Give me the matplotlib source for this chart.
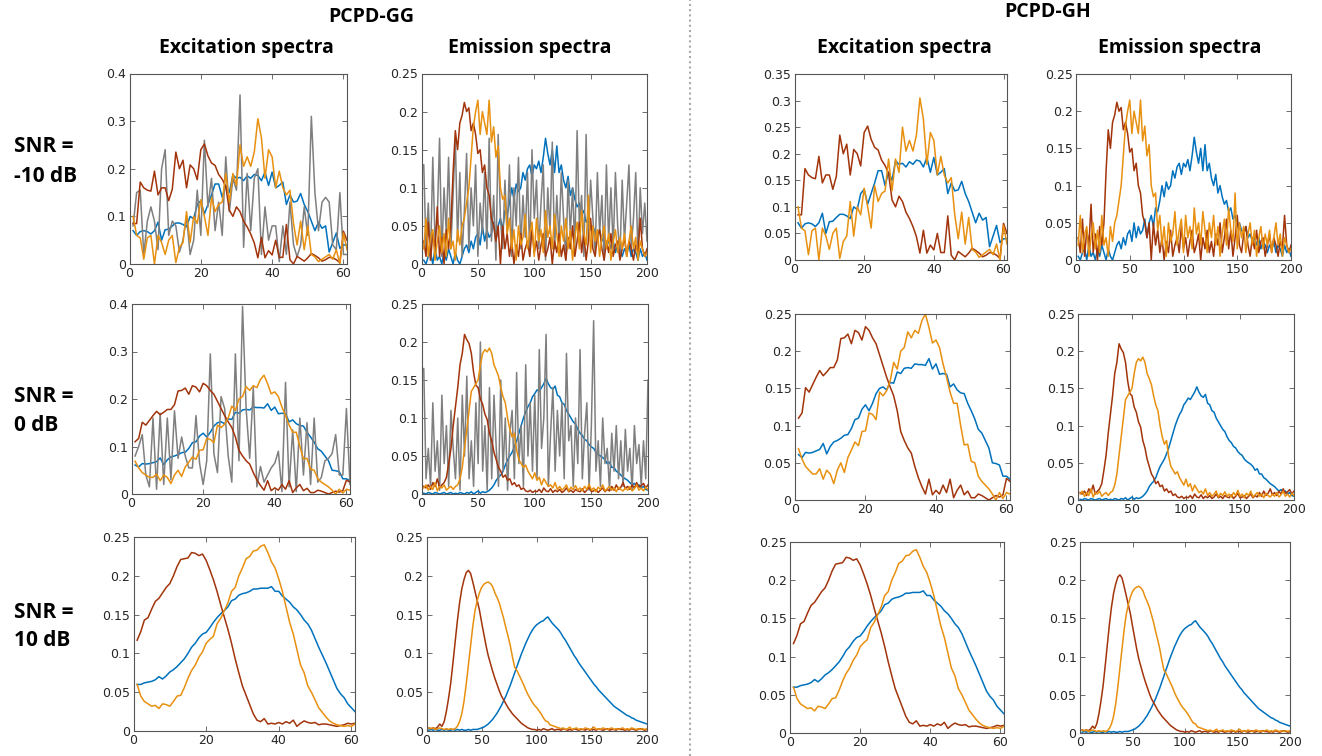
import numpy as np
import matplotlib.pyplot as plt
from matplotlib.ticker import FuncFormatter

W, H = 1322, 756

# sample positions
ex_x = np.arange(1, 62)
em_x = np.arange(2, 201, 2)

# ---- excitation spectra, SNR = -10 dB ----
ex_brown_m10 = [0.085, 0.085, 0.172, 0.16, 0.155, 0.153, 0.195, 0.145, 0.16, 0.16,
                0.133, 0.157, 0.235, 0.2, 0.218, 0.16, 0.208, 0.2, 0.177, 0.24,
                0.252, 0.227, 0.212, 0.207, 0.188, 0.178, 0.163, 0.113, 0.1, 0.12,
                0.11, 0.09, 0.078, 0.063, 0.044, 0.013, 0.056, 0.013, 0.028, 0.019,
                0.05, 0.014, 0.014, 0.083, 0.009, 0.0, 0.016, 0.011, 0.006, 0.013,
                0.022, 0.018, 0.013, 0.006, 0.009, 0.014, 0.013, 0.009, 0.003, 0.069,
                0.05]
ex_orange_m10 = [0.1, 0.06, 0.055, 0.01, 0.055, 0.06, 0.0, 0.06, 0.045, 0.02,
                 0.05, 0.06, 0.003, 0.035, 0.045, 0.11, 0.045, 0.1, 0.085, 0.135,
                 0.1, 0.06, 0.14, 0.11, 0.125, 0.13, 0.19, 0.13, 0.19, 0.165,
                 0.25, 0.205, 0.225, 0.205, 0.235, 0.305, 0.265, 0.18, 0.24, 0.225,
                 0.16, 0.195, 0.16, 0.145, 0.155, 0.085, 0.04, 0.09, 0.03, 0.08,
                 0.02, 0.015, 0.005, 0.01, 0.015, 0.02, 0.01, 0.03, 0.0, 0.065,
                 0.03]
ex_blue_m10 = [0.07, 0.06, 0.068, 0.07, 0.068, 0.063, 0.07, 0.088, 0.05, 0.072,
               0.073, 0.08, 0.086, 0.086, 0.083, 0.078, 0.1, 0.095, 0.125, 0.133,
               0.105, 0.125, 0.145, 0.168, 0.168, 0.14, 0.165, 0.15, 0.187, 0.18,
               0.182, 0.175, 0.185, 0.18, 0.188, 0.186, 0.175, 0.193, 0.165, 0.193,
               0.16, 0.165, 0.172, 0.125, 0.145, 0.13, 0.132, 0.148, 0.125, 0.11,
               0.09, 0.07, 0.088, 0.075, 0.08, 0.025, 0.045, 0.065, 0.033, 0.04,
               0.04]
ex_gray_m10 = [0.08, 0.15, 0.155, 0.02, 0.09, 0.12, 0.09, 0.03, 0.2, 0.24,
               0.06, 0.09, 0.08, 0.025, 0.05, 0.1, 0.02, 0.05, 0.155, 0.06,
               0.26, 0.12, 0.18, 0.07, 0.13, 0.06, 0.225, 0.11, 0.18, 0.155,
               0.355, 0.035, 0.19, 0.07, 0.18, 0.2, 0.02, 0.12, 0.05, 0.08,
               0.08, 0.005, 0.08, 0.02, 0.13, 0.04, 0.015, 0.04, 0.12, 0.06,
               0.31, 0.15, 0.07, 0.13, 0.14, 0.13, 0.04, 0.03, 0.15, 0.02,
               0.02]

# ---- excitation spectra, SNR = 0 dB ----
ex_brown_0 = [0.11, 0.117, 0.151, 0.145, 0.155, 0.165, 0.174, 0.167, 0.172, 0.178,
              0.178, 0.188, 0.217, 0.218, 0.223, 0.21, 0.228, 0.225, 0.215, 0.233,
              0.228, 0.218, 0.21, 0.195, 0.18, 0.165, 0.152, 0.14, 0.12, 0.092,
              0.08, 0.07, 0.063, 0.045, 0.03, 0.018, 0.008, 0.028, 0.007, 0.013,
              0.008, 0.02, 0.01, 0.028, 0.003, 0.013, 0.02, 0.007, 0.012, 0.003,
              0.003, 0.008, 0.006, 0.003, 0.0, 0.003, 0.006, 0.004, 0.007, 0.029,
              0.025]
ex_orange_0 = [0.069, 0.055, 0.045, 0.04, 0.035, 0.035, 0.042, 0.028, 0.04, 0.035,
               0.022, 0.04, 0.05, 0.037, 0.057, 0.067, 0.078, 0.073, 0.092, 0.093,
               0.117, 0.115, 0.108, 0.145, 0.14, 0.147, 0.16, 0.185, 0.176, 0.2,
               0.205, 0.226, 0.218, 0.228, 0.224, 0.241, 0.25, 0.232, 0.211, 0.215,
               0.205, 0.183, 0.165, 0.145, 0.13, 0.13, 0.1, 0.074, 0.075, 0.052,
               0.05, 0.032, 0.025, 0.02, 0.015, 0.008, 0.0, 0.01, 0.002, 0.01,
               0.008]
ex_blue_0 = [0.061, 0.057, 0.064, 0.063, 0.064, 0.066, 0.068, 0.076, 0.062, 0.072,
             0.078, 0.08, 0.083, 0.087, 0.088, 0.096, 0.108, 0.11, 0.122, 0.128,
             0.12, 0.13, 0.143, 0.15, 0.152, 0.148, 0.158, 0.157, 0.172, 0.17,
             0.177, 0.178, 0.177, 0.183, 0.182, 0.182, 0.181, 0.19, 0.176, 0.183,
             0.169, 0.17, 0.169, 0.152, 0.156, 0.148, 0.144, 0.143, 0.13, 0.12,
             0.109, 0.095, 0.09, 0.08, 0.07, 0.05, 0.049, 0.047, 0.032, 0.032,
             0.028]
ex_gray_0 = [0.08, 0.1, 0.125, 0.04, 0.015, 0.16, 0.01, 0.17, 0.02, 0.16,
             0.03, 0.175, 0.075, 0.12, 0.08, 0.055, 0.055, 0.165, 0.065, 0.02,
             0.07, 0.295, 0.085, 0.045, 0.205, 0.18, 0.08, 0.025, 0.295, 0.07,
             0.395, 0.18, 0.075, 0.225, 0.015, 0.058, 0.025, 0.04, 0.055, 0.065,
             0.09, 0.005, 0.235, 0.015, 0.135, 0.005, 0.16, 0.04, 0.15, 0.02,
             0.16, 0.025, 0.035, 0.07, 0.075, 0.085, 0.125, 0.04, 0.04, 0.18,
             0.02]

# ---- excitation spectra, SNR = 10 dB ----
ex_brown_10 = [0.117, 0.128, 0.143, 0.146, 0.157, 0.167, 0.171, 0.178, 0.185, 0.19,
               0.2, 0.212, 0.221, 0.222, 0.223, 0.23, 0.229, 0.226, 0.228, 0.22,
               0.208, 0.195, 0.18, 0.163, 0.147, 0.131, 0.113, 0.093, 0.075, 0.058,
               0.046, 0.034, 0.022, 0.014, 0.012, 0.016, 0.009, 0.01, 0.009, 0.011,
               0.009, 0.012, 0.01, 0.014, 0.006, 0.01, 0.013, 0.011, 0.01, 0.011,
               0.008, 0.009, 0.009, 0.008, 0.007, 0.006, 0.007, 0.008, 0.01, 0.009,
               0.01]
ex_orange_10 = [0.06, 0.045, 0.038, 0.035, 0.032, 0.033, 0.029, 0.035, 0.034, 0.032,
                0.038, 0.045, 0.046, 0.056, 0.068, 0.078, 0.085, 0.095, 0.102, 0.113,
                0.118, 0.122, 0.138, 0.145, 0.155, 0.165, 0.18, 0.185, 0.2, 0.21,
                0.222, 0.225, 0.232, 0.233, 0.238, 0.24, 0.23, 0.218, 0.21, 0.196,
                0.18, 0.16, 0.14, 0.125, 0.105, 0.085, 0.075, 0.058, 0.05, 0.04,
                0.03, 0.024, 0.018, 0.013, 0.01, 0.008, 0.007, 0.006, 0.007, 0.006,
                0.009]
ex_blue_10 = [0.06, 0.06, 0.062, 0.063, 0.064, 0.066, 0.07, 0.067, 0.071, 0.076,
              0.079, 0.083, 0.088, 0.093, 0.1, 0.108, 0.113, 0.12, 0.125, 0.127,
              0.133, 0.14, 0.146, 0.151, 0.155, 0.16, 0.168, 0.17, 0.175, 0.177,
              0.178, 0.18, 0.183, 0.183, 0.184, 0.184, 0.184, 0.186, 0.18, 0.18,
              0.174, 0.17, 0.166, 0.16, 0.156, 0.15, 0.143, 0.138, 0.13, 0.119,
              0.108, 0.098, 0.088, 0.077, 0.066, 0.055, 0.048, 0.043, 0.035, 0.03,
              0.025]

# ---- emission spectra, SNR = -10 dB (every 2nd channel) ----
em_brown_m10 = [0.03, 0.01, 0.055, 0.005, 0.04, 0.02, 0.075, 0.01, 0.035, 0.0,
                0.045, 0.02, 0.05, 0.12, 0.175, 0.15, 0.185, 0.195, 0.212, 0.2,
                0.205, 0.175, 0.185, 0.17, 0.145, 0.15, 0.12, 0.13, 0.1, 0.09,
                0.06, 0.05, 0.03, 0.05, 0.0, 0.05, 0.02, 0.04, 0.01, 0.03,
                0.0, 0.025, 0.01, 0.04, 0.005, 0.02, 0.03, 0.01, 0.045, 0.015,
                0.03, 0.005, 0.025, 0.04, 0.01, 0.02, 0.035, 0.0, 0.03, 0.015,
                0.04, 0.01, 0.025, 0.005, 0.035, 0.02, 0.05, 0.01, 0.03, 0.055,
                0.015, 0.04, 0.005, 0.03, 0.06, 0.02, 0.01, 0.035, 0.045, 0.02,
                0.005, 0.03, 0.015, 0.04, 0.01, 0.025, 0.03, 0.005, 0.02, 0.035,
                0.01, 0.03, 0.02, 0.005, 0.025, 0.015, 0.06, 0.02, 0.01, 0.02]
em_orange_m10 = [0.02, 0.06, 0.01, 0.035, 0.045, 0.005, 0.03, 0.05, 0.015, 0.04,
                 0.01, 0.06, 0.02, 0.03, 0.005, 0.045, 0.025, 0.05, 0.06, 0.08,
                 0.1, 0.14, 0.18, 0.2, 0.215, 0.17, 0.2, 0.185, 0.17, 0.215,
                 0.16, 0.18, 0.14, 0.155, 0.1, 0.085, 0.09, 0.04, 0.06, 0.02,
                 0.045, 0.005, 0.05, 0.025, 0.035, 0.065, 0.02, 0.04, 0.055, 0.01,
                 0.06, 0.03, 0.045, 0.015, 0.07, 0.035, 0.05, 0.02, 0.065, 0.04,
                 0.01, 0.05, 0.03, 0.06, 0.02, 0.045, 0.005, 0.035, 0.055, 0.02,
                 0.07, 0.04, 0.025, 0.09, 0.015, 0.05, 0.03, 0.045, 0.01, 0.035,
                 0.05, 0.02, 0.04, 0.005, 0.03, 0.045, 0.015, 0.035, 0.02, 0.04,
                 0.01, 0.03, 0.05, 0.02, 0.035, 0.005, 0.03, 0.02, 0.01, 0.015]
em_blue_m10 = [0.005, 0.0, 0.01, 0.015, 0.0, 0.02, 0.005, 0.01, 0.0, 0.015,
               0.005, 0.02, 0.01, 0.0, 0.015, 0.005, 0.0, 0.01, 0.02, 0.025,
               0.015, 0.03, 0.02, 0.035, 0.04, 0.025, 0.05, 0.03, 0.045, 0.035,
               0.04, 0.055, 0.03, 0.05, 0.06, 0.045, 0.07, 0.065, 0.08, 0.1,
               0.085, 0.105, 0.095, 0.1, 0.12, 0.11, 0.125, 0.13, 0.115, 0.13,
               0.125, 0.135, 0.12, 0.14, 0.165, 0.145, 0.13, 0.15, 0.12, 0.155,
               0.12, 0.13, 0.11, 0.1, 0.115, 0.09, 0.1, 0.085, 0.075, 0.08,
               0.065, 0.07, 0.055, 0.06, 0.045, 0.05, 0.04, 0.035, 0.045, 0.03,
               0.035, 0.025, 0.03, 0.02, 0.03, 0.015, 0.025, 0.02, 0.01, 0.02,
               0.015, 0.025, 0.01, 0.02, 0.015, 0.005, 0.02, 0.01, 0.015, 0.005]
em_gray_m10 = [0.13, 0.02, 0.08, 0.005, 0.14, 0.03, 0.06, 0.165, 0.01, 0.1,
               0.04, 0.14, 0.02, 0.09, 0.165, 0.03, 0.12, 0.01, 0.07, 0.145,
               0.02, 0.1, 0.05, 0.13, 0.01, 0.08, 0.04, 0.12, 0.02, 0.165,
               0.03, 0.09, 0.005, 0.17, 0.06, 0.02, 0.11, 0.04, 0.13, 0.01,
               0.1, 0.05, 0.14, 0.02, 0.09, 0.035, 0.12, 0.01, 0.15, 0.06,
               0.11, 0.02, 0.08, 0.13, 0.005, 0.1, 0.04, 0.16, 0.02, 0.09,
               0.03, 0.12, 0.06, 0.005, 0.11, 0.04, 0.1, 0.02, 0.175, 0.05,
               0.09, 0.01, 0.17, 0.03, 0.11, 0.06, 0.015, 0.12, 0.04, 0.09,
               0.005, 0.13, 0.03, 0.1, 0.02, 0.12, 0.05, 0.01, 0.11, 0.03,
               0.08, 0.13, 0.02, 0.06, 0.12, 0.01, 0.1, 0.04, 0.08, 0.03]

# ---- emission spectra, SNR = 0 dB ----
em_brown_0 = [0.01, 0.008, 0.012, 0.006, 0.015, 0.01, 0.02, 0.008, 0.012, 0.015,
              0.022, 0.04, 0.06, 0.09, 0.115, 0.14, 0.17, 0.185, 0.21, 0.203,
              0.198, 0.185, 0.16, 0.143, 0.14, 0.125, 0.118, 0.105, 0.098, 0.08,
              0.07, 0.055, 0.045, 0.035, 0.03, 0.022, 0.025, 0.018, 0.02, 0.012,
              0.015, 0.01, 0.012, 0.006, 0.008, 0.004, 0.003, 0.005, 0.002, 0.004,
              0.003, 0.006, 0.002, 0.008, 0.004, 0.003, 0.007, 0.002, 0.005, 0.003,
              0.006, 0.002, 0.004, 0.008, 0.003, 0.005, 0.002, 0.006, 0.004, 0.003,
              0.007, 0.002, 0.005, 0.009, 0.003, 0.004, 0.006, 0.002, 0.005, 0.008,
              0.003, 0.006, 0.004, 0.01, 0.005, 0.012, 0.006, 0.009, 0.015, 0.007,
              0.01, 0.006, 0.012, 0.008, 0.015, 0.009, 0.011, 0.014, 0.008, 0.012]
em_orange_0 = [0.008, 0.012, 0.005, 0.01, 0.006, 0.015, 0.004, 0.01, 0.008, 0.012,
               0.005, 0.008, 0.01, 0.006, 0.01, 0.012, 0.02, 0.035, 0.06, 0.085,
               0.11, 0.135, 0.14, 0.145, 0.15, 0.17, 0.185, 0.19, 0.187, 0.192,
               0.185, 0.17, 0.163, 0.155, 0.14, 0.128, 0.12, 0.1, 0.085, 0.075,
               0.08, 0.058, 0.045, 0.04, 0.035, 0.038, 0.03, 0.025, 0.02, 0.028,
               0.018, 0.022, 0.012, 0.02, 0.015, 0.01, 0.012, 0.008, 0.015, 0.006,
               0.01, 0.005, 0.008, 0.012, 0.004, 0.009, 0.006, 0.011, 0.005, 0.008,
               0.004, 0.01, 0.006, 0.013, 0.005, 0.008, 0.003, 0.009, 0.006, 0.012,
               0.004, 0.007, 0.01, 0.005, 0.008, 0.003, 0.009, 0.006, 0.004, 0.008,
               0.005, 0.01, 0.004, 0.007, 0.012, 0.005, 0.008, 0.004, 0.009, 0.006]
em_blue_0 = [0.001, 0.0, 0.002, 0.001, 0.0, 0.002, 0.001, 0.0, 0.001, 0.002,
             0.0, 0.001, 0.002, 0.0, 0.001, 0.0, 0.002, 0.001, 0.0, 0.002,
             0.001, 0.003, 0.0, 0.002, 0.004, 0.001, 0.003, 0.002, 0.003, 0.005,
             0.008, 0.012, 0.018, 0.022, 0.025, 0.03, 0.038, 0.045, 0.05, 0.055,
             0.062, 0.07, 0.08, 0.09, 0.1, 0.108, 0.115, 0.12, 0.128, 0.132,
             0.137, 0.135, 0.14, 0.145, 0.152, 0.145, 0.14, 0.138, 0.142, 0.13,
             0.128, 0.12, 0.118, 0.11, 0.105, 0.1, 0.095, 0.092, 0.085, 0.08,
             0.077, 0.072, 0.07, 0.065, 0.062, 0.06, 0.055, 0.052, 0.05, 0.048,
             0.045, 0.04, 0.042, 0.035, 0.035, 0.03, 0.028, 0.025, 0.022, 0.02,
             0.018, 0.015, 0.012, 0.014, 0.01, 0.012, 0.008, 0.01, 0.006, 0.005]
em_gray_0 = [0.165, 0.02, 0.06, 0.01, 0.12, 0.03, 0.07, 0.005, 0.13, 0.04,
             0.09, 0.01, 0.11, 0.06, 0.02, 0.1, 0.005, 0.13, 0.05, 0.155,
             0.02, 0.07, 0.01, 0.12, 0.04, 0.2, 0.03, 0.09, 0.005, 0.14,
             0.02, 0.13, 0.06, 0.01, 0.15, 0.03, 0.1, 0.005, 0.08, 0.11,
             0.02, 0.16, 0.04, 0.09, 0.01, 0.17, 0.05, 0.12, 0.03, 0.13,
             0.02, 0.19, 0.06, 0.1, 0.21, 0.01, 0.08, 0.14, 0.03, 0.11,
             0.05, 0.12, 0.02, 0.185, 0.07, 0.09, 0.01, 0.1, 0.04, 0.19,
             0.02, 0.08, 0.12, 0.005, 0.09, 0.228, 0.03, 0.07, 0.01, 0.1,
             0.04, 0.06, 0.005, 0.08, 0.03, 0.09, 0.02, 0.07, 0.01, 0.085,
             0.03, 0.06, 0.005, 0.09, 0.04, 0.065, 0.01, 0.07, 0.02, 0.15]

# ---- emission spectra, SNR = 10 dB ----
em_brown_10 = [0.004, 0.003, 0.004, 0.003, 0.005, 0.009, 0.006, 0.012, 0.025, 0.042,
               0.062, 0.088, 0.115, 0.142, 0.165, 0.183, 0.195, 0.204, 0.207, 0.203,
               0.192, 0.18, 0.168, 0.156, 0.14, 0.125, 0.11, 0.097, 0.087, 0.077,
               0.068, 0.06, 0.052, 0.045, 0.04, 0.035, 0.03, 0.026, 0.022, 0.019,
               0.016, 0.013, 0.01, 0.008, 0.006, 0.004, 0.003, 0.002, 0.002, 0.001,
               0.002, 0.001, 0.003, 0.002, 0.001, 0.002, 0.003, 0.001, 0.002, 0.002,
               0.001, 0.003, 0.002, 0.001, 0.002, 0.001, 0.003, 0.002, 0.001, 0.002,
               0.002, 0.001, 0.003, 0.001, 0.002, 0.002, 0.001, 0.003, 0.002, 0.001,
               0.002, 0.003, 0.001, 0.002, 0.002, 0.001, 0.003, 0.002, 0.002, 0.001,
               0.002, 0.001, 0.003, 0.002, 0.001, 0.002, 0.003, 0.002, 0.001, 0.002]
em_orange_10 = [0.004, 0.003, 0.004, 0.002, 0.003, 0.004, 0.003, 0.002, 0.003, 0.002,
                0.003, 0.002, 0.003, 0.006, 0.012, 0.022, 0.038, 0.06, 0.085, 0.11,
                0.135, 0.155, 0.168, 0.178, 0.185, 0.189, 0.191, 0.192, 0.19, 0.186,
                0.178, 0.172, 0.165, 0.155, 0.145, 0.133, 0.122, 0.11, 0.095, 0.082,
                0.078, 0.072, 0.066, 0.06, 0.053, 0.047, 0.042, 0.037, 0.033, 0.03,
                0.026, 0.022, 0.017, 0.013, 0.012, 0.008, 0.007, 0.006, 0.005, 0.004,
                0.003, 0.004, 0.002, 0.003, 0.005, 0.002, 0.003, 0.004, 0.002, 0.003,
                0.002, 0.004, 0.003, 0.002, 0.003, 0.005, 0.002, 0.003, 0.002, 0.004,
                0.003, 0.002, 0.003, 0.004, 0.002, 0.003, 0.002, 0.003, 0.004, 0.002,
                0.003, 0.002, 0.004, 0.003, 0.002, 0.003, 0.002, 0.003, 0.002, 0.003]
em_blue_10 = [0.001, 0.002, 0.001, 0.002, 0.001, 0.001, 0.002, 0.001, 0.002, 0.001,
              0.001, 0.002, 0.001, 0.002, 0.001, 0.002, 0.001, 0.001, 0.002, 0.001,
              0.002, 0.002, 0.002, 0.003, 0.004, 0.005, 0.007, 0.009, 0.012, 0.015,
              0.019, 0.023, 0.028, 0.033, 0.039, 0.045, 0.052, 0.059, 0.067, 0.075,
              0.083, 0.091, 0.099, 0.106, 0.113, 0.119, 0.125, 0.13, 0.134, 0.137,
              0.139, 0.141, 0.142, 0.145, 0.147, 0.143, 0.139, 0.136, 0.133, 0.13,
              0.126, 0.121, 0.117, 0.112, 0.107, 0.102, 0.097, 0.093, 0.088, 0.084,
              0.08, 0.076, 0.072, 0.068, 0.064, 0.06, 0.057, 0.053, 0.05, 0.047,
              0.044, 0.041, 0.038, 0.035, 0.032, 0.03, 0.028, 0.026, 0.024, 0.022,
              0.02, 0.019, 0.017, 0.016, 0.014, 0.013, 0.012, 0.011, 0.01, 0.009]

C_BLUE = '#0072bd'
C_BROWN = '#a2340b'
C_ORANGE = '#e8900f'
C_GRAY = '#7f7f7f'
AX_COLOR = '#555555'
TXT_COLOR = '#262626'

ex_sets = {
  'm10': (ex_blue_m10, ex_brown_m10, ex_orange_m10, ex_gray_m10),
  '0': (ex_blue_0, ex_brown_0, ex_orange_0, ex_gray_0),
  '10': (ex_blue_10, ex_brown_10, ex_orange_10, None),
}
em_sets = {
  'm10': (em_blue_m10, em_brown_m10, em_orange_m10, em_gray_m10),
  '0': (em_blue_0, em_brown_0, em_orange_0, em_gray_0),
  '10': (em_blue_10, em_brown_10, em_orange_10, None),
}


def px_rect(l, t, r, b):
  return [l / W, 1 - b / H, (r - l) / W, (b - t) / H]


def fig_text(x, y, s, **kw):
  fig.text(x / W, 1 - y / H, s, **kw)


# (pixel box, kind, snr, show gray, ymax)
panels = [
  ((129.5, 73.5, 347, 264), 'ex', 'm10', True, 0.4),
  ((421.5, 73.5, 647, 264), 'em', 'm10', True, 0.25),
  ((794.5, 74, 1007, 260), 'ex', 'm10', False, 0.35),
  ((1076, 74, 1291, 260), 'em', 'm10', False, 0.25),
  ((131.5, 304, 350, 494), 'ex', '0', True, 0.4),
  ((421.5, 304, 648, 494), 'em', '0', True, 0.25),
  ((795, 314, 1010, 500), 'ex', '0', False, 0.25),
  ((1078, 314, 1294, 500), 'em', '0', False, 0.25),
  ((133.5, 537, 355, 731), 'ex', '10', False, 0.25),
  ((426.5, 537, 647, 731), 'em', '10', False, 0.25),
  ((790, 542, 1004, 733), 'ex', '10', False, 0.25),
  ((1080, 542, 1290, 733), 'em', '10', False, 0.25),
]

fig = plt.figure(figsize=(W / 100, H / 100), dpi=100)
tick_fmt = FuncFormatter(lambda v, p: '%g' % v)

for box, kind, snr, show_gray, ymax in panels:
  ax = fig.add_axes(px_rect(*box))
  if kind == 'ex':
    x = ex_x
    blue, brown, orange, gray = ex_sets[snr]
    ax.set_xlim(0, 61)
    ax.set_xticks([0, 20, 40, 60])
  else:
    x = em_x
    blue, brown, orange, gray = em_sets[snr]
    ax.set_xlim(0, 200)
    ax.set_xticks([0, 50, 100, 150, 200])
  lw = 1.1
  ax.plot(x, blue, color=C_BLUE, lw=lw)
  if show_gray and gray is not None:
    ax.plot(x, gray, color=C_GRAY, lw=lw)
  ax.plot(x, brown, color=C_BROWN, lw=lw)
  ax.plot(x, orange, color=C_ORANGE, lw=lw)

  step = 0.1 if ymax == 0.4 else 0.05
  ax.set_ylim(0, ymax)
  ax.set_yticks(np.round(np.arange(0, ymax + 1e-9, step), 2))
  ax.yaxis.set_major_formatter(tick_fmt)
  ax.tick_params(direction='in', length=3.5, width=0.6, top=True, right=True,
                 labelsize=9, colors=AX_COLOR, labelcolor=TXT_COLOR, pad=2.5)
  for sp in ax.spines.values():
    sp.set_color(AX_COLOR)
    sp.set_linewidth(0.8)

# headers
title_kw = dict(family='Open Sans', weight='bold', fontsize=14, color='black',
                ha='center', va='center')
fig_text(371, 17, 'PCPD-GG', **title_kw)
fig_text(1048, 12, 'PCPD-GH', **title_kw)
fig_text(246, 48, 'Excitation spectra', **title_kw)
fig_text(530, 48, 'Emission spectra', **title_kw)
fig_text(904, 48, 'Excitation spectra', **title_kw)
fig_text(1180, 48, 'Emission spectra', **title_kw)

snr_kw = dict(family='Open Sans', weight='bold', fontsize=15, color='black',
              ha='left', va='center')
for y1, y2, lab in [(146, 176, '-10 dB'), (396, 425, '0 dB'), (612, 641, '10 dB')]:
  fig_text(14, y1, 'SNR =', **snr_kw)
  fig_text(14, y2, lab, **snr_kw)

# dotted separator between the two groups
fig.add_artist(plt.Line2D([690 / W, 690 / W], [0, 1], transform=fig.transFigure,
                          color='#aaaaaa', lw=1.5, ls=(0, (1, 1.5))))

fig.savefig('out.png', dpi=100)
